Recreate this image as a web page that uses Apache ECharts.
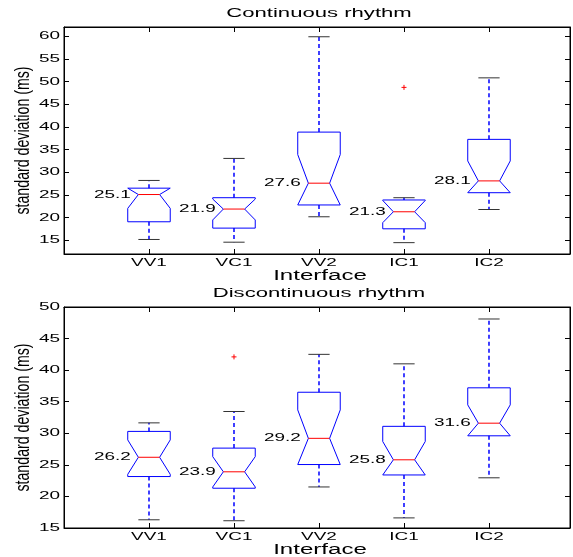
<!DOCTYPE html>
<html><head><meta charset="utf-8">
<script src="https://cdn.jsdelivr.net/npm/echarts@6/dist/echarts.min.js"></script>
<style>html,body{margin:0;padding:0;background:#fff}#c{width:573px;height:557px}</style>
</head><body><div id="c"></div>
<script>
// ---------- data ----------
const categories = ['VV1', 'VC1', 'VV2', 'IC1', 'IC2'];

// Continuous rhythm
const contLow     = [15.2, 14.6, 20.2, 14.5, 21.8];
const contQ1      = [19.1, 17.7, 22.8, 17.55, 25.5];
const contNotchLo = [22.05, 19.5, 22.8, 18.9, 25.5];
const contMedian  = [25.1, 21.9, 27.6, 21.3, 28.1];
const contNotchHi = [26.5, 24.1, 33.9, 23.8, 32.5];
const contQ3      = [26.5, 24.4, 38.85, 23.9, 37.25];
const contHigh    = [28.2, 33.05, 59.85, 24.4, 50.8];
const contOutliers = [[4, 48.7]];

// Discontinuous rhythm
const discLow     = [16.3, 16.15, 21.5, 16.6, 22.95];
const discQ1      = [23.15, 21.3, 25.05, 23.4, 29.6];
const discNotchLo = [23.5, 21.5, 25.05, 23.4, 29.6];
const discMedian  = [26.2, 23.9, 29.2, 25.8, 31.6];
const discNotchHi = [28.95, 26.3, 33.7, 28.7, 34.5];
const discQ3      = [30.3, 27.65, 36.5, 31.1, 37.2];
const discHigh    = [31.65, 33.45, 42.5, 41.0, 48.1];
const discOutliers = [[2, 42.1]];

const yTicksCont = [15, 20, 25, 30, 35, 40, 45, 50, 55, 60];
const yTicksDisc = [15, 20, 25, 30, 35, 40, 45, 50];
const xTicks = [1, 2, 3, 4, 5];

const titles = ['Continuous rhythm', 'Discontinuous rhythm'];
const xName = 'Interface';
const yName = 'standard deviation (ms)';

// ---------- helpers ----------
const FONT = '"Liberation Sans", Arial, Helvetica, sans-serif';
const SX = 1.72;
const X_MAX = 5.953;
const Y_RANGE = [[12, 62], [15, 50]];

function textEl(x, y, text, size, align, valign, sx, sy, rot) {
  return {
    type: 'text', x: x, y: y, scaleX: sx || 1, scaleY: sy || 1, rotation: rot || 0,
    silent: true,
    style: {
      text: text, font: size + 'px ' + FONT, fill: '#000',
      align: align, verticalAlign: valign,
      textAlign: align, textVerticalAlign: valign
    }
  };
}

function boxRows(low, q1, nlo, med, nhi, q3, high) {
  return categories.map((c, i) => [i + 1, low[i], q1[i], nlo[i], med[i], nhi[i], q3[i], high[i]]);
}

function renderBox(params, api) {
  const x = api.value(0);
  const low = api.value(1), q1 = api.value(2), nlo = api.value(3), med = api.value(4);
  const nhi = api.value(5), q3 = api.value(6), high = api.value(7);
  const BW = 0.25, NW = 0.125, CW = 0.125;
  const p = (dx, y) => api.coord([x + dx, y]);
  const poly = [p(-BW, q1), p(-BW, nlo), p(-NW, med), p(-BW, nhi), p(-BW, q3),
                p(BW, q3), p(BW, nhi), p(NW, med), p(BW, nlo), p(BW, q1)];
  const c = p(0, 0)[0];
  const yHigh = p(0, high)[1], yQ3 = p(0, q3)[1], yQ1 = p(0, q1)[1], yLow = p(0, low)[1];
  const cl = p(-CW, 0)[0], cr = p(CW, 0)[0];
  const ml = p(-NW, med), mr = p(NW, med);
  const dash = { stroke: '#0000ff', lineWidth: 1.5, lineDash: [4, 3], fill: null };
  const cap = { stroke: '#333', lineWidth: 1 };
  return {
    type: 'group', silent: true,
    children: [
      { type: 'line', shape: { x1: c, y1: yQ3, x2: c, y2: yHigh }, style: dash },
      { type: 'line', shape: { x1: c, y1: yQ1, x2: c, y2: yLow }, style: dash },
      { type: 'line', shape: { x1: cl, y1: yHigh, x2: cr, y2: yHigh }, style: cap },
      { type: 'line', shape: { x1: cl, y1: yLow, x2: cr, y2: yLow }, style: cap },
      { type: 'polygon', shape: { points: poly }, style: { fill: null, stroke: '#0000ff', lineWidth: 1 } },
      { type: 'line', shape: { x1: ml[0], y1: ml[1], x2: mr[0], y2: mr[1] }, style: { stroke: '#ff0000', lineWidth: 1 } }
    ]
  };
}

function renderOutlier(params, api) {
  const pt = api.coord([api.value(0), api.value(1)]);
  const s = 2.5;
  const st = { stroke: '#ff0000', lineWidth: 1 };
  return {
    type: 'group', silent: true,
    children: [
      { type: 'line', shape: { x1: pt[0] - s, y1: pt[1], x2: pt[0] + s, y2: pt[1] }, style: st },
      { type: 'line', shape: { x1: pt[0], y1: pt[1] - s, x2: pt[0], y2: pt[1] + s }, style: st }
    ]
  };
}

function medianLabelSeries(g, med) {
  return {
    type: 'custom', xAxisIndex: 2 * g, yAxisIndex: 2 * g, silent: true, clip: false, z: 5,
    data: med.map((m, i) => [i + 1, m]),
    renderItem: (params, api) => {
      const pt = api.coord([api.value(0), api.value(1)]);
      return textEl(pt[0] - 55, pt[1], api.value(1).toFixed(1), 11, 'left', 'middle', SX);
    }
  };
}

function yTickLabelSeries(g, ticks) {
  return {
    type: 'custom', xAxisIndex: 2 * g, yAxisIndex: 2 * g, silent: true, clip: false,
    data: ticks.map(v => [0, v]),
    renderItem: (params, api) => {
      const pt = api.coord([0, api.value(1)]);
      return textEl(pt[0] - 4, pt[1], String(api.value(1)), 11, 'right', 'middle', SX);
    }
  };
}

function xTickLabelSeries(g) {
  const ymin = Y_RANGE[g][0];
  return {
    type: 'custom', xAxisIndex: 2 * g, yAxisIndex: 2 * g, silent: true, clip: false,
    data: xTicks.map(v => [v, ymin]),
    renderItem: (params, api) => {
      const pt = api.coord([api.value(0), ymin]);
      return textEl(pt[0], pt[1] + 9, categories[params.dataIndex], 11, 'center', 'middle', SX);
    }
  };
}

// ---------- layout ----------
const grids = [
  { left: 64, top: 27, width: 506, height: 227 },
  { left: 64, top: 307, width: 506, height: 221 }
];

const xAxes = [], yAxes = [];
grids.forEach((gr, g) => {
  ['bottom', 'top'].forEach(pos => {
    xAxes.push({
      type: 'value', gridIndex: g, position: pos, min: 0, max: X_MAX,
      axisLine: { show: true, onZero: false, lineStyle: { color: '#000', width: 1 } },
      axisTick: { show: true, inside: true, length: 5, customValues: xTicks, lineStyle: { color: '#000' } },
      axisLabel: { show: false }, splitLine: { show: false }
    });
  });
  ['left', 'right'].forEach(pos => {
    yAxes.push({
      type: 'value', gridIndex: g, position: pos, min: Y_RANGE[g][0], max: Y_RANGE[g][1],
      axisLine: { show: true, onZero: false, lineStyle: { color: '#000', width: 1 } },
      axisTick: { show: true, inside: true, length: 5, customValues: g === 0 ? yTicksCont : yTicksDisc, lineStyle: { color: '#000' } },
      axisLabel: { show: false }, splitLine: { show: false }
    });
  });
});

const series = [
  { type: 'custom', xAxisIndex: 0, yAxisIndex: 0, clip: false, z: 3,
    data: boxRows(contLow, contQ1, contNotchLo, contMedian, contNotchHi, contQ3, contHigh), renderItem: renderBox },
  { type: 'custom', xAxisIndex: 0, yAxisIndex: 0, clip: false, z: 3, data: contOutliers, renderItem: renderOutlier },
  { type: 'custom', xAxisIndex: 2, yAxisIndex: 2, clip: false, z: 3,
    data: boxRows(discLow, discQ1, discNotchLo, discMedian, discNotchHi, discQ3, discHigh), renderItem: renderBox },
  { type: 'custom', xAxisIndex: 2, yAxisIndex: 2, clip: false, z: 3, data: discOutliers, renderItem: renderOutlier },
  medianLabelSeries(0, contMedian),
  medianLabelSeries(1, discMedian),
  yTickLabelSeries(0, yTicksCont),
  yTickLabelSeries(1, yTicksDisc),
  xTickLabelSeries(0),
  xTickLabelSeries(1)
];

const graphics = [];
grids.forEach((gr, g) => {
  const cx = gr.left + gr.width / 2;
  const cy = gr.top + gr.height / 2;
  graphics.push(textEl(cx + 2, gr.top - 14, titles[g], 13, 'center', 'middle', 1.7));
  graphics.push(textEl(cx + 3, gr.top + gr.height + 22, xName, 14, 'center', 'middle', SX));
  graphics.push(textEl(23, cy, yName, 13, 'center', 'middle', 1.09, 1.55, Math.PI / 2));
});

const chart = echarts.init(document.getElementById('c'), null, { renderer: 'canvas' });
chart.setOption({
  backgroundColor: '#fff',
  animation: false,
  grid: grids.map(g => Object.assign({ show: true, borderColor: '#000', borderWidth: 1, backgroundColor: '#fff' }, g)),
  xAxis: xAxes,
  yAxis: yAxes,
  series: series,
  graphic: graphics
});
</script>
</body></html>
